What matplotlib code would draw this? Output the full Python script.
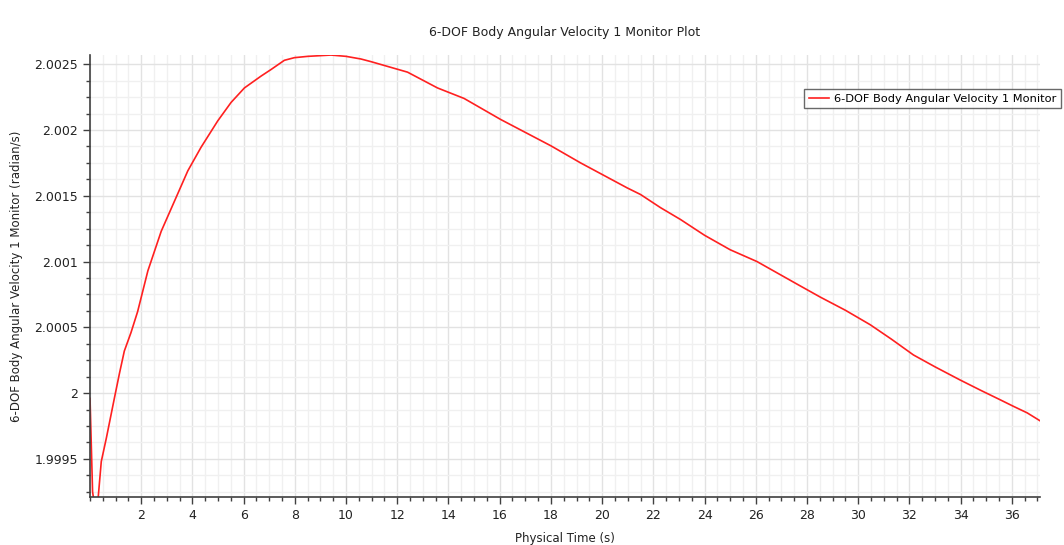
import numpy as np
import matplotlib
matplotlib.use("Agg")
import matplotlib.pyplot as plt
from matplotlib.ticker import MultipleLocator, FormatStrFormatter

# physical time (s) and angular velocity (radian/s)
time_s = [0.0, 0.1, 0.25, 0.44, 0.64, 0.95, 1.15, 1.34, 1.6, 1.86, 2.26,
          2.78, 3.3, 3.82, 4.34, 4.99, 5.51, 6.03, 6.68, 7.07, 7.59, 7.98,
          8.5, 9.41, 10.0, 10.58, 10.97, 12.4, 13.57, 14.61, 16.04, 18.0,
          19.16, 20.98, 21.5, 22.28, 23.06, 24.0, 25.0, 26.05, 27.6, 28.52,
          29.5, 30.47, 31.3, 32.16, 33.0, 33.98, 34.8, 35.54, 36.06, 36.6,
          37.1]
omega = [1.99996, 1.99925, 1.99905, 1.99948, 1.99966, 1.99996, 2.00015,
         2.00032, 2.00046, 2.00062, 2.00093, 2.00123, 2.00146, 2.00169,
         2.00187, 2.00207, 2.00221, 2.00232, 2.00241, 2.00246, 2.00253,
         2.00255, 2.00256, 2.00257, 2.00256, 2.00254, 2.00252, 2.00244,
         2.00232, 2.00224, 2.00208, 2.00188, 2.00175, 2.00156, 2.00151,
         2.00141, 2.00132, 2.00120, 2.00109, 2.00100, 2.00083, 2.00073,
         2.00063, 2.00052, 2.00041, 2.00029, 2.00020, 2.00010, 2.00002,
         1.99995, 1.99990, 1.99985, 1.99979]

label = "6-DOF Body Angular Velocity 1 Monitor"

fig = plt.figure(figsize=(10.64, 5.45), dpi=100)
ax = fig.add_axes([0.0846, 0.088, 0.8928, 0.811])

ax.plot(time_s, omega, color="#ff2020", lw=1.2, label=label)

ax.set_xlim(0, 37.1)
ax.set_ylim(1.99921, 2.00257)

ax.set_xticks(np.arange(2, 37, 2))
ax.xaxis.set_minor_locator(MultipleLocator(0.5))
ax.set_yticks([1.9995, 2.0, 2.0005, 2.001, 2.0015, 2.002, 2.0025])
ax.yaxis.set_minor_locator(MultipleLocator(0.000125))
ax.yaxis.set_major_formatter(FormatStrFormatter("%g"))

ax.grid(which="major", color="#e2e2e2", lw=1.0)
ax.grid(which="minor", color="#f0f0f0", lw=1.0)
ax.set_axisbelow(True)

for s in ["top", "right"]:
    ax.spines[s].set_visible(False)
for s in ["left", "bottom"]:
    ax.spines[s].set_color("#404040")
    ax.spines[s].set_linewidth(1.2)

ax.tick_params(which="major", direction="out", length=5, width=1, color="#404040",
               labelsize=9, labelcolor="#222222")
ax.tick_params(which="minor", direction="out", length=3, width=1, color="#404040")

ax.set_title("6-DOF Body Angular Velocity 1 Monitor Plot", fontsize=9, color="#222222", pad=14)
ax.set_xlabel("Physical Time (s)", fontsize=8.5, color="#222222", labelpad=7)
ax.set_ylabel("6-DOF Body Angular Velocity 1 Monitor (radian/s)", fontsize=8.5,
              color="#222222", labelpad=8)

leg = fig.legend(loc="upper left", bbox_to_anchor=(804 / 1064, 1 - 89 / 545),
                 fontsize=8.2, frameon=True, fancybox=False, handlelength=1.8,
                 borderpad=0.4, handletextpad=0.4, borderaxespad=0)
leg.get_frame().set_edgecolor("#444444")
leg.get_frame().set_linewidth(1.0)

fig.savefig("out.png", dpi=100)
